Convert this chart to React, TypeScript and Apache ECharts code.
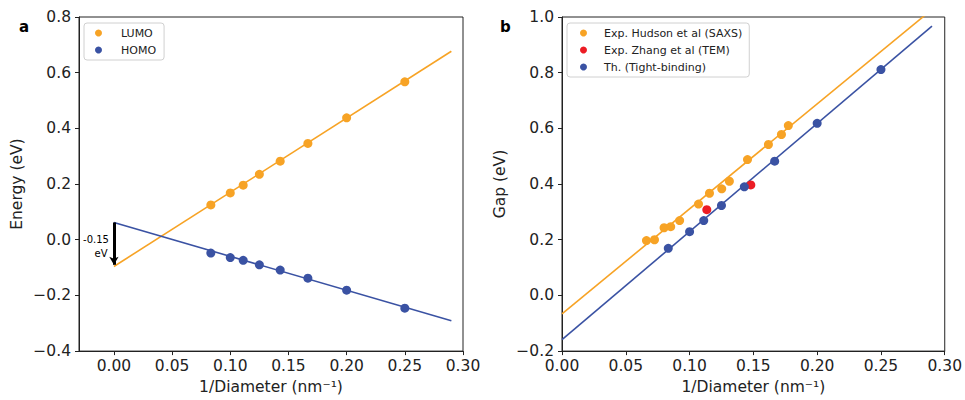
import React, { useEffect, useRef } from "react";
import * as echarts from "echarts";

// Panel a: LUMO / HOMO energies vs 1/Diameter
const invDiameterA = [0.0833, 0.1, 0.1111, 0.125, 0.1429, 0.1667, 0.2, 0.25];
const lumoValues = [0.125, 0.168, 0.196, 0.235, 0.282, 0.346, 0.438, 0.567];
const homoValues = [-0.048, -0.064, -0.074, -0.09, -0.109, -0.138, -0.181, -0.246];
const lumoFit = [[0, -0.096], [0.29, 0.677]];
const homoFit = [[0, 0.062], [0.29, -0.291]];

// Panel b: gap vs 1/Diameter
const hudsonX = [0.0662, 0.0725, 0.08, 0.0852, 0.0922, 0.107, 0.1156, 0.1252, 0.1312, 0.1454, 0.1618, 0.172, 0.1774];
const hudsonY = [0.197, 0.2, 0.243, 0.247, 0.269, 0.328, 0.367, 0.383, 0.41, 0.488, 0.542, 0.578, 0.61];
const zhangX = [0.1135, 0.148];
const zhangY = [0.308, 0.397];
const tbX = [0.0833, 0.1, 0.1111, 0.125, 0.1429, 0.1667, 0.2, 0.25];
const tbY = [0.169, 0.229, 0.269, 0.323, 0.39, 0.482, 0.618, 0.811];
const expFit = [[0, -0.066], [0.29, 1.027]];
const tbFit = [[0, -0.159], [0.29, 0.967]];

const xTicks = [0, 0.05, 0.1, 0.15, 0.2, 0.25, 0.3];

const ORANGE = "#F7A325";
const BLUE = "#3A52A3";
const RED = "#EC1C24";
const FONT = "DejaVu Sans";

const zip = (xs: number[], ys: number[]) => xs.map((x, i) => [x, ys[i]]);

const fmtY = (v: number) => (v < 0 ? "\u2212" + Math.abs(v).toFixed(1) : v.toFixed(1));
const fmtX = (v: number) => (v < 0 ? "\u2212" + Math.abs(v).toFixed(2) : v.toFixed(2));

export default function App() {
  const ref = useRef<HTMLDivElement>(null);
  useEffect(() => {
    if (!ref.current) return;
    const chart = echarts.init(ref.current, null, { renderer: "svg" });

    const xAxisBase = (gridIndex: number, min: number) => ({
      type: "value",
      gridIndex,
      min,
      max: 0.3,
      name: "1/Diameter (nm\u207B\u00B9)",
      nameLocation: "middle",
      nameGap: 27,
      nameTextStyle: { fontFamily: FONT, fontSize: 15.5, color: "#222" },
      axisLine: { show: true, onZero: false, lineStyle: { color: "#222", width: 1 } },
      axisTick: { show: true, length: 4, lineStyle: { color: "#222" }, customValues: xTicks },
      axisLabel: { fontFamily: FONT, fontSize: 15.5, color: "#222", margin: 7, formatter: fmtX, customValues: xTicks },
      splitLine: { show: false },
    });

    const yAxisBase = (gridIndex: number, min: number, max: number, name: string) => ({
      type: "value",
      gridIndex,
      min,
      max,
      interval: 0.2,
      name,
      nameLocation: "middle",
      nameGap: 54,
      nameTextStyle: { fontFamily: FONT, fontSize: 15.5, color: "#222" },
      axisLine: { show: true, onZero: false, lineStyle: { color: "#222", width: 1 } },
      axisTick: { show: true, length: 4, lineStyle: { color: "#222" } },
      axisLabel: { fontFamily: FONT, fontSize: 15.5, color: "#222", margin: 8, formatter: fmtY },
      splitLine: { show: false },
    });

    const scatter = (name: string, data: number[][], color: string, idx: number) => ({
      type: "scatter",
      name,
      xAxisIndex: idx,
      yAxisIndex: idx,
      data,
      symbol: "circle",
      symbolSize: 9,
      itemStyle: { color, opacity: 1 },
      z: 5,
    });

    const fitLine = (data: number[][], color: string, idx: number, extra: any = {}) => ({
      type: "line",
      xAxisIndex: idx,
      yAxisIndex: idx,
      data,
      symbol: "none",
      lineStyle: { color, width: 1.6 },
      clip: true,
      z: 3,
      ...extra,
    });

    const legendBase = {
      orient: "vertical",
      icon: "circle",
      itemWidth: 7,
      itemHeight: 7,
      itemGap: 3,
      backgroundColor: "#fff",
      borderColor: "#d0d0d0",
      borderWidth: 1,
      borderRadius: 3,
      formatter: (n: string) => `{gap| }${n}`,
    };
    const legendText = (gapW: number) => ({
      fontFamily: FONT,
      fontSize: 11,
      color: "#222",
      lineHeight: 14,
      rich: { gap: { width: gapW, fontSize: 11, lineHeight: 14 } },
    });

    chart.setOption({
      animation: false,
      backgroundColor: "#fff",
      grid: [
        { left: 79, top: 17, width: 384, height: 337, show: true, borderColor: "#222", borderWidth: 1, backgroundColor: "transparent" },
        { left: 562, top: 17, width: 385, height: 337, show: true, borderColor: "#222", borderWidth: 1, backgroundColor: "transparent" },
      ],
      xAxis: [xAxisBase(0, -0.03), xAxisBase(1, 0)],
      yAxis: [yAxisBase(0, -0.4, 0.8, "Energy (eV)"), yAxisBase(1, -0.2, 1.0, "Gap (eV)")],
      legend: [
        { ...legendBase, left: 84, top: 23, padding: [3, 8, 3, 11], textStyle: legendText(14), data: ["LUMO", "HOMO"] },
        {
          ...legendBase,
          left: 567,
          top: 23,
          padding: [3, 7, 3, 13],
          textStyle: legendText(12),
          data: ["Exp. Hudson et al (SAXS)", "Exp. Zhang et al (TEM)", "Th. (Tight-binding)"],
        },
      ],
      series: [
        fitLine(lumoFit, ORANGE, 0),
        fitLine(homoFit, BLUE, 0, {
          markLine: {
            silent: true,
            symbol: ["none", "arrow"],
            symbolSize: [7, 8],
            label: { show: false },
            lineStyle: { color: "#000", width: 3, type: "solid" },
            data: [[{ coord: [0, 0.062] }, { coord: [0, -0.09] }]],
          },
        }),
        scatter("LUMO", zip(invDiameterA, lumoValues), ORANGE, 0),
        scatter("HOMO", zip(invDiameterA, homoValues), BLUE, 0),
        fitLine(expFit, ORANGE, 1),
        fitLine(tbFit, BLUE, 1),
        scatter("Exp. Hudson et al (SAXS)", zip(hudsonX, hudsonY), ORANGE, 1),
        scatter("Exp. Zhang et al (TEM)", zip(zhangX, zhangY), RED, 1),
        scatter("Th. (Tight-binding)", zip(tbX, tbY), BLUE, 1),
      ],
      graphic: [
        { type: "text", left: 19, top: 19, style: { text: "a", font: `bold 15px ${FONT}`, fill: "#000" } },
        { type: "text", left: 500, top: 19, style: { text: "b", font: `bold 15px ${FONT}`, fill: "#000" } },
        {
          type: "text",
          x: 96,
          y: 239,
          style: { text: "-0.15", font: `10px ${FONT}`, fill: "#000", textAlign: "center", textVerticalAlign: "middle" },
        },
        {
          type: "text",
          x: 101,
          y: 253,
          style: { text: "eV", font: `10px ${FONT}`, fill: "#000", textAlign: "center", textVerticalAlign: "middle" },
        },
      ],
    });
    return () => chart.dispose();
  }, []);

  return <div ref={ref} style={{ position: "absolute", left: 0, top: 0, width: 965, height: 400 }} />;
}
